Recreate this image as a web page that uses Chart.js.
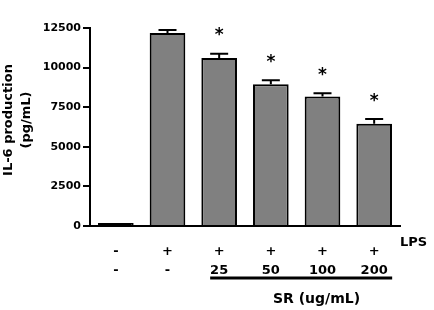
<!DOCTYPE html>
<html>
<head>
<meta charset="utf-8">
<script src="https://cdn.jsdelivr.net/npm/chart.js@4.4.1/dist/chart.umd.min.js"></script>
<style>
    html, body { margin: 0; padding: 0; background: #fff; }
    #wrap { width: 434px; height: 310px; position: relative; }
</style>
</head>
<body>
<div id="wrap"><canvas id="il6Chart"></canvas></div>
<script>
// treatment rows printed under the axis
const lpsRow = ['-', '+', '+', '+', '+', '+'];
const srRow = ['-', '-', '25', '50', '100', '200'];

// IL-6 (pg/mL), mean and error
const il6Values = [190, 12180, 10600, 8950, 8170, 6460];
const il6Errors = [0, 190, 270, 250, 210, 290];
const significant = [false, false, true, true, true, true];

const yTicks = [0, 2500, 5000, 7500, 10000, 12500];

const FONT = 'DejaVu Sans';

// error bars, asterisks and the extra labels around the axes
const annotationsPlugin = {
    id: 'annotations',
    afterDatasetsDraw(chart) {
        const ctx = chart.ctx;
        const y = chart.scales.y;
        const meta = chart.getDatasetMeta(0);

        ctx.save();
        ctx.strokeStyle = '#000';
        ctx.fillStyle = '#000';
        ctx.lineWidth = 2;

        meta.data.forEach((bar, i) => {
            const err = il6Errors[i];
            const capY = y.getPixelForValue(il6Values[i] + err);
            if (err > 0) {
                ctx.beginPath();
                ctx.moveTo(bar.x, y.getPixelForValue(il6Values[i]));
                ctx.lineTo(bar.x, capY);
                ctx.moveTo(bar.x - 9, capY);
                ctx.lineTo(bar.x + 9, capY);
                ctx.stroke();
            }
            if (significant[i]) {
                ctx.font = 'bold 17px ' + FONT;
                ctx.textAlign = 'center';
                ctx.textBaseline = 'alphabetic';
                const m = ctx.measureText('*');
                const centre = capY - 22;
                ctx.fillText('*', bar.x, centre + (m.actualBoundingBoxAscent - m.actualBoundingBoxDescent) / 2);
            }
        });
        ctx.restore();
    },
    afterDraw(chart) {
        const ctx = chart.ctx;
        const x = chart.scales.x;
        const area = chart.chartArea;

        ctx.save();
        ctx.fillStyle = '#000';
        ctx.strokeStyle = '#000';

        // LPS row caption
        ctx.font = 'bold 13px ' + FONT;
        ctx.textAlign = 'left';
        ctx.textBaseline = 'middle';
        ctx.fillText('LPS', area.right, 243);

        // SR bracket line and caption
        const lineStart = x.getPixelForValue(2) - 9;
        const lineEnd = x.getPixelForValue(5) + 18;
        ctx.lineWidth = 3;
        ctx.beginPath();
        ctx.moveTo(lineStart, 278);
        ctx.lineTo(lineEnd, 278);
        ctx.stroke();

        ctx.font = 'bold 14px ' + FONT;
        ctx.textAlign = 'center';
        ctx.fillText('SR (ug/mL)', x.getPixelForValue(4) - 6, 299);

        // y axis title, two rotated lines
        ctx.font = 'bold 13px ' + FONT;
        ctx.translate(9, 120);
        ctx.rotate(-Math.PI / 2);
        ctx.fillText('IL-6 production', 0, 0);
        ctx.fillText('(pg/mL)', 0, 18);
        ctx.restore();
    }
};

function renderIl6Chart() {
    const ctx = document.getElementById('il6Chart').getContext('2d');

    new Chart(ctx, {
        type: 'bar',
        data: {
            labels: lpsRow.map((lps, i) => [lps, srRow[i]]),
            datasets: [{
                data: il6Values,
                backgroundColor: (c) => c.dataIndex === 0 ? '#000' : '#808080',
                borderColor: '#000',
                borderWidth: 2,
                barPercentage: 0.69,
                categoryPercentage: 1
            }]
        },
        options: {
            responsive: true,
            maintainAspectRatio: false,
            animation: false,
            layout: { padding: { top: 28, right: 34, left: 0, bottom: 0 } },
            plugins: {
                legend: { display: false },
                tooltip: { enabled: false }
            },
            scales: {
                x: {
                    afterFit: (scale) => { scale.height = 84; },
                    grid: { display: false },
                    border: { display: true, color: '#000', width: 2 },
                    ticks: {
                        color: '#000',
                        padding: 8,
                        maxRotation: 0,
                        autoSkip: false,
                        font: { family: FONT, size: 13, weight: 'bold', lineHeight: 1.45 }
                    }
                },
                y: {
                    min: 0,
                    max: 12500,
                    afterFit: (scale) => { scale.width = 90; },
                    afterBuildTicks: (scale) => { scale.ticks = yTicks.map(v => ({ value: v })); },
                    grid: { drawOnChartArea: false, color: '#000', lineWidth: 2, tickLength: 7 },
                    border: { color: '#000', width: 2 },
                    ticks: {
                        color: '#000',
                        padding: 2,
                        callback: (v) => String(v),
                        font: { family: FONT, size: 11, weight: 'bold' }
                    }
                }
            }
        },
        plugins: [annotationsPlugin]
    });
}

renderIl6Chart();
</script>
</body>
</html>
